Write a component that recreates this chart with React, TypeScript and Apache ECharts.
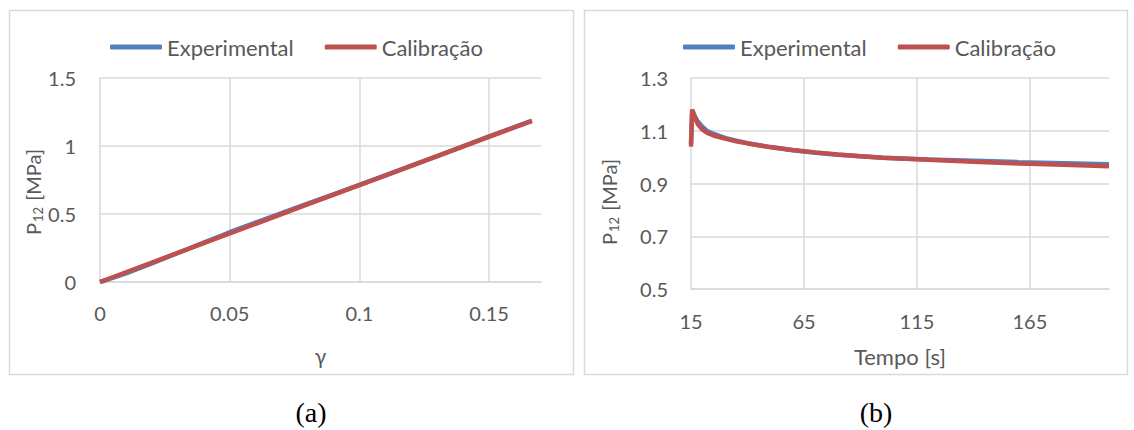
import React, { useEffect, useRef } from "react";
import * as echarts from "echarts";

// Panel (a): P12 vs shear strain gamma
const gammaExp = [0, 0.01, 0.02, 0.03, 0.04, 0.05, 0.06, 0.07, 0.08, 0.09, 0.1, 0.11, 0.12, 0.13, 0.14, 0.15, 0.16, 0.1665];
const p12Exp = [0, 0.064, 0.137, 0.213, 0.29, 0.366, 0.437, 0.506, 0.576, 0.645, 0.714, 0.784, 0.855, 0.926, 0.998, 1.07, 1.14, 1.185];
const gammaCal = [0, 0.02, 0.04, 0.06, 0.08, 0.1, 0.12, 0.14, 0.16, 0.1665];
const p12Cal = [0, 0.143, 0.286, 0.428, 0.57, 0.712, 0.854, 0.997, 1.139, 1.185];

// Panel (b): P12 vs time (relaxation)
const timeB = [15, 15.5, 16, 17, 18, 20, 22, 25, 30, 35, 40, 50, 60, 70, 80, 90, 100, 120, 140, 160, 180, 200];
const relaxExp = [1.05, 1.17, 1.165, 1.15, 1.135, 1.115, 1.1, 1.088, 1.073, 1.062, 1.053, 1.038, 1.026, 1.017, 1.009, 1.003, 0.998, 0.991, 0.986, 0.981, 0.977, 0.973];
const relaxCal = [1.04, 1.18, 1.17, 1.145, 1.125, 1.105, 1.093, 1.082, 1.07, 1.06, 1.052, 1.038, 1.027, 1.018, 1.01, 1.003, 0.998, 0.99, 0.982, 0.976, 0.971, 0.965];

const seriesNames = ["Experimental", "Calibração"];
const xTicksA = [0, 0.05, 0.1, 0.15];
const yTicksA = [0, 0.5, 1, 1.5];
const xTicksB = [15, 65, 115, 165];
const yTicksB = [0.5, 0.7, 0.9, 1.1, 1.3];

const BLUE = "#4F81BD";
const RED = "#C0504D";
const GRID = "#d9d9d9";
const TXT = "#595959";
const FONT = "Lato";

export default function App() {
  const ref = useRef<HTMLDivElement>(null);
  useEffect(() => {
    if (!ref.current) return;
    const chart = echarts.init(ref.current, undefined, { renderer: "svg" });
    const zip = (xs: number[], ys: number[]) => xs.map((x, i) => [x, ys[i]]);
    const gridColors = (n: number) => [...Array(n).fill(GRID), "rgba(0,0,0,0)"];
    const axisLabel = { color: TXT, fontSize: 20, fontFamily: FONT };
    const yTitle = (x: number, y: number) => ({
      type: "text",
      x,
      y,
      rotation: Math.PI / 2,
      style: {
        text: "{a|P}{s|12}{a| [MPa]}",
        align: "center",
        verticalAlign: "middle",
        fill: TXT,
        rich: {
          a: { fontSize: 20, fill: TXT, fontFamily: FONT },
          s: { fontSize: 13, fill: TXT, fontFamily: FONT, padding: [10, 1, 0, 1] },
        },
      },
    });
    const legendBase = {
      data: seriesNames,
      icon: "roundRect",
      itemWidth: 52,
      itemHeight: 5,
      itemGap: 31,
      textStyle: { color: TXT, fontSize: 22, fontFamily: FONT },
      top: 31,
    };
    const line = (name: string, color: string, data: number[][], idx: number) => ({
      name,
      type: "line",
      xAxisIndex: idx,
      yAxisIndex: idx,
      data,
      showSymbol: false,
      symbol: "none",
      lineStyle: { color, width: 4.5 },
      itemStyle: { color },
      z: name === "Calibração" ? 3 : 2,
    });
    chart.setOption({
      animation: false,
      backgroundColor: "#ffffff",
      graphic: [
        { type: "rect", shape: { x: 9.5, y: 10.5, width: 564, height: 364 }, style: { fill: "none", stroke: GRID, lineWidth: 1.5 } },
        { type: "rect", shape: { x: 584.5, y: 10.5, width: 543, height: 364 }, style: { fill: "none", stroke: GRID, lineWidth: 1.5 } },
        yTitle(33, 192),
        yTitle(609, 202),
        { type: "text", x: 311, y: 412, style: { text: "(a)", font: "28px 'Liberation Serif'", fill: "#000", align: "center", verticalAlign: "middle" } },
        { type: "text", x: 876, y: 412, style: { text: "(b)", font: "28px 'Liberation Serif'", fill: "#000", align: "center", verticalAlign: "middle" } },
      ],
      legend: [
        { ...legendBase, left: 105 },
        { ...legendBase, left: 678 },
      ],
      grid: [
        { left: 100, top: 78, width: 441, height: 204 },
        { left: 691, top: 78, width: 418, height: 211 },
      ],
      xAxis: [
        {
          gridIndex: 0, type: "value", min: 0, max: 0.17, interval: 0.05,
          name: "γ", nameLocation: "middle", nameGap: 63,
          nameTextStyle: { color: TXT, fontSize: 21, fontFamily: FONT },
          axisLine: { show: true, lineStyle: { color: GRID, width: 1.5 } },
          axisTick: { show: false },
          axisLabel: { ...axisLabel, margin: 21, showMaxLabel: false, formatter: (v: number) => (xTicksA.includes(+v.toFixed(4)) ? String(+v.toFixed(4)) : "") },
          splitLine: { show: true, lineStyle: { color: gridColors(4), width: 1.5 } },
        },
        {
          gridIndex: 1, type: "value", min: 15, max: 200, interval: 50,
          name: "Tempo [s]", nameLocation: "middle", nameGap: 56,
          nameTextStyle: { color: TXT, fontSize: 22, fontFamily: FONT },
          axisLine: { show: true, lineStyle: { color: GRID, width: 1.5 } },
          axisTick: { show: false },
          axisLabel: { ...axisLabel, margin: 22, showMaxLabel: false, formatter: (v: number) => (xTicksB.includes(Math.round(v)) ? String(Math.round(v)) : "") },
          splitLine: { show: true, lineStyle: { color: gridColors(4), width: 1.5 } },
        },
      ],
      yAxis: [
        {
          gridIndex: 0, type: "value", min: yTicksA[0], max: yTicksA[yTicksA.length - 1], interval: 0.5,
          axisLine: { show: false },
          axisTick: { show: false },
          axisLabel: { ...axisLabel, margin: 24 },
          splitLine: { show: true, lineStyle: { color: GRID, width: 1.5 } },
        },
        {
          gridIndex: 1, type: "value", min: yTicksB[0], max: yTicksB[yTicksB.length - 1], interval: 0.2,
          axisLine: { show: false },
          axisTick: { show: false },
          axisLabel: { ...axisLabel, margin: 23, formatter: (v: number) => v.toFixed(1) },
          splitLine: { show: true, lineStyle: { color: GRID, width: 1.5 } },
        },
      ],
      series: [
        line("Experimental", BLUE, zip(gammaExp, p12Exp), 0),
        line("Calibração", RED, zip(gammaCal, p12Cal), 0),
        line("Experimental", BLUE, zip(timeB, relaxExp), 1),
        line("Calibração", RED, zip(timeB, relaxCal), 1),
      ],
    });
    return () => chart.dispose();
  }, []);
  return <div ref={ref} style={{ position: "absolute", left: 0, top: 0, width: 1134, height: 430 }} />;
}
